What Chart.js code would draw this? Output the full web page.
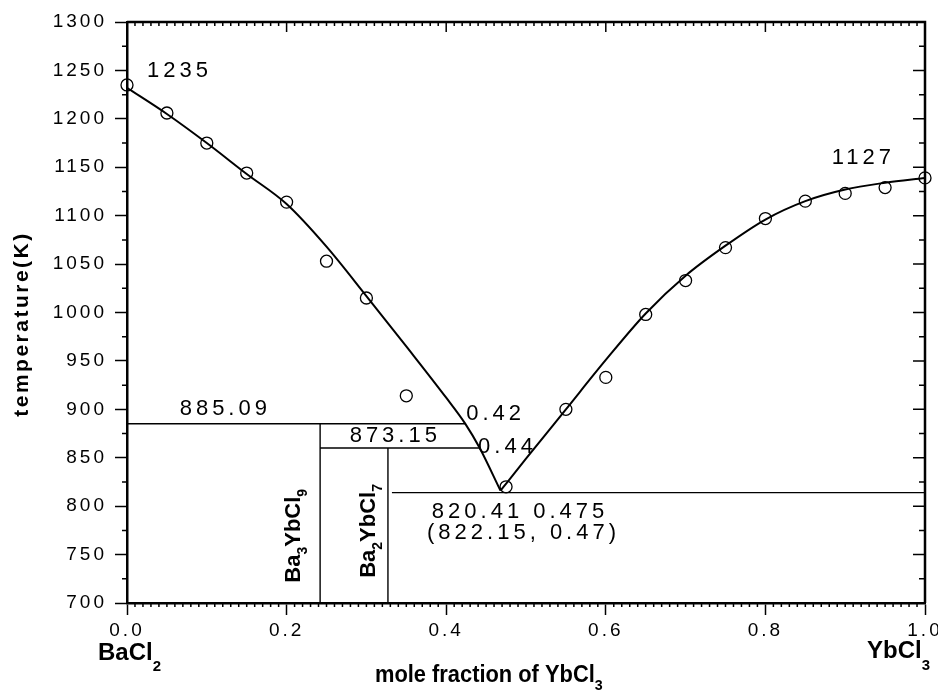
<!DOCTYPE html>
<html>
<head>
<meta charset="utf-8">
<script src="https://cdn.jsdelivr.net/npm/chart.js@4.4.1/dist/chart.umd.min.js"></script>
<style>
  html, body { margin: 0; padding: 0; background: #fff; }
  #wrap { width: 938px; height: 690px; }
</style>
</head>
<body>
<div id="wrap"><canvas id="phaseChart"></canvas></div>
<script>
// measured liquidus temperatures (open circles)
const measuredX = [0, 0.05, 0.1, 0.15, 0.2, 0.25, 0.3, 0.35, 0.475, 0.55, 0.6, 0.65, 0.7, 0.75, 0.8, 0.85, 0.9, 0.95, 1.0];
const measuredT = [1235, 1206, 1175, 1144, 1114, 1053, 1015, 914, 820, 900, 933, 998, 1033, 1067, 1097, 1115, 1123, 1129, 1139];

// fitted liquidus, BaCl2 side and YbCl3 side
const leftCurveX = [0, 0.05, 0.1, 0.15, 0.2, 0.25, 0.3, 0.35, 0.4, 0.424, 0.442, 0.468];
const leftCurveT = [1232, 1205, 1175, 1143, 1112, 1068, 1017, 965, 912, 885, 860, 816];
const rightCurveX = [0.468, 0.5, 0.55, 0.6, 0.65, 0.7, 0.75, 0.8, 0.85, 0.9, 0.95, 1.0];
const rightCurveT = [816, 849, 900, 951, 999, 1038, 1069, 1096, 1115, 1127, 1134, 1139];

// compounds Ba3YbCl9 and Ba2YbCl7: vertical lines and their shelves
const compoundX = [0.242, 0.327];
const shelfT = [885.09, 860];
const shelfStartX = [0, 0.242];
const shelfEndX = [0.424, 0.442];

// eutectic line
const eutecticX = [0.332, 1.0];
const eutecticT = 814;

const xTickValues = [0, 0.2, 0.4, 0.6, 0.8, 1.0];
const xTickLabels = ['0.0', '0.2', '0.4', '0.6', '0.8', '1.0'];
const yTickValues = [700, 750, 800, 850, 900, 950, 1000, 1050, 1100, 1150, 1200, 1250, 1300];

const FONT = "'Liberation Sans', Arial, sans-serif";

function toPoints(xs, ys) {
    return xs.map((x, i) => ({ x: x, y: Array.isArray(ys) ? ys[i] : ys }));
}

const lineStyle = {
    borderColor: '#000',
    borderWidth: 1.4,
    pointRadius: 0,
    showLine: true,
    fill: false
};

const datasets = [
    {
        label: 'measured',
        data: toPoints(measuredX, measuredT),
        showLine: false,
        pointRadius: 6,
        pointHoverRadius: 6,
        pointBorderWidth: 1.3,
        pointBorderColor: '#000',
        pointBackgroundColor: 'rgba(0,0,0,0)',
        clip: false
    },
    Object.assign({}, lineStyle, {
        data: toPoints(leftCurveX, leftCurveT),
        borderWidth: 2,
        cubicInterpolationMode: 'monotone'
    }),
    Object.assign({}, lineStyle, {
        data: toPoints(rightCurveX, rightCurveT),
        borderWidth: 2,
        cubicInterpolationMode: 'monotone'
    }),
    Object.assign({}, lineStyle, { data: toPoints(eutecticX, eutecticT) })
];

compoundX.forEach((cx, i) => {
    datasets.push(Object.assign({}, lineStyle, { data: [{ x: cx, y: 700 }, { x: cx, y: shelfT[i] }] }));
    datasets.push(Object.assign({}, lineStyle, { data: [{ x: shelfStartX[i], y: shelfT[i] }, { x: shelfEndX[i], y: shelfT[i] }] }));
});

// draw text with lowered subscripts, e.g. [['Ba', 0], ['3', 1]]
function drawChem(ctx, parts, size, subSize, subDrop) {
    let x = 0;
    parts.forEach(p => {
        const sub = p[1] === 1;
        ctx.font = 'bold ' + (sub ? subSize : size) + 'px ' + FONT;
        ctx.fillText(p[0], x, sub ? subDrop : 0);
        x += ctx.measureText(p[0]).width;
    });
}

const framePlugin = {
    id: 'frame',
    beforeDraw(chart) {
        chart.ctx.letterSpacing = '3px';
    },
    afterDraw(chart) {
        const { ctx, chartArea: a, scales: { x, y } } = chart;
        ctx.save();
        ctx.letterSpacing = '0px';
        ctx.strokeStyle = '#000';
        ctx.lineWidth = 2.5;
        ctx.beginPath();
        ctx.moveTo(a.left, a.top);
        ctx.lineTo(a.right, a.top);
        ctx.lineTo(a.right, a.bottom);
        ctx.stroke();

        ctx.lineWidth = 1.5;
        ctx.beginPath();
        for (let i = 0; i <= 100; i++) {
            const px = x.getPixelForValue(i / 100);
            const major = i % 20 === 0;
            if (!major) {
                ctx.moveTo(px, a.bottom);
                ctx.lineTo(px, a.bottom + 4);
            }
            ctx.moveTo(px, a.top);
            ctx.lineTo(px, a.top + (major ? 10 : 4));
        }
        for (let v = 700; v <= 1300; v += 25) {
            const py = y.getPixelForValue(v);
            const major = v % 50 === 0;
            if (!major) {
                ctx.moveTo(a.left - 5, py);
                ctx.lineTo(a.left, py);
            }
            ctx.moveTo(a.right - (major ? 12 : 6), py);
            ctx.lineTo(a.right, py);
        }
        ctx.stroke();

        // number annotations
        ctx.fillStyle = '#000';
        ctx.font = '22px ' + FONT;
        ctx.letterSpacing = '4px';
        ctx.textAlign = 'left';
        ctx.textBaseline = 'middle';
        const notes = [
            ['1235', 0.025, 1249],
            ['1127', 0.883, 1160],
            ['885.09', 0.066, 900],
            ['0.42', 0.425, 895],
            ['873.15', 0.279, 873],
            ['0.44', 0.44, 861],
            ['820.41 0.475', 0.382, 794],
            ['(822.15, 0.47)', 0.376, 772]
        ];
        notes.forEach(n => ctx.fillText(n[0], x.getPixelForValue(n[1]), y.getPixelForValue(n[2])));

        // compound labels, rotated
        ctx.letterSpacing = '0px';
        ctx.textBaseline = 'alphabetic';
        const compounds = [
            [[['Ba', 0], ['3', 1], ['YbCl', 0], ['9', 1]], 0.217, 721],
            [[['Ba', 0], ['2', 1], ['YbCl', 0], ['7', 1]], 0.311, 726]
        ];
        compounds.forEach(c => {
            ctx.save();
            ctx.translate(x.getPixelForValue(c[1]), y.getPixelForValue(c[2]));
            ctx.rotate(-Math.PI / 2);
            drawChem(ctx, c[0], 22, 14, 7);
            ctx.restore();
        });

        // end members under the x axis
        ctx.save();
        ctx.translate(98, 660);
        drawChem(ctx, [['BaCl', 0], ['2', 1]], 24, 15, 11);
        ctx.restore();
        ctx.save();
        ctx.translate(867, 658);
        drawChem(ctx, [['YbCl', 0], ['3', 1]], 24, 15, 12);
        ctx.restore();

        // axis titles
        ctx.save();
        ctx.translate(375, 682);
        ctx.scale(0.95, 1);
        drawChem(ctx, [['mole fraction of YbCl', 0], ['3', 1]], 23, 15, 8);
        ctx.restore();

        ctx.save();
        ctx.translate(22, 324);
        ctx.rotate(-Math.PI / 2);
        ctx.font = 'bold 21px ' + FONT;
        ctx.letterSpacing = '2.5px';
        ctx.textAlign = 'center';
        ctx.textBaseline = 'middle';
        ctx.fillText('temperature(K)', 0, 0);
        ctx.restore();

        ctx.restore();
        ctx.letterSpacing = '0px';
    }
};

Chart.defaults.color = '#000';
Chart.defaults.font.family = FONT;

new Chart(document.getElementById('phaseChart').getContext('2d'), {
    type: 'scatter',
    data: { datasets: datasets },
    options: {
        responsive: true,
        maintainAspectRatio: false,
        animation: false,
        devicePixelRatio: 1,
        layout: { padding: { top: 22, right: 13, left: 0, bottom: 0 } },
        plugins: {
            legend: { display: false },
            tooltip: { enabled: false }
        },
        scales: {
            x: {
                type: 'linear',
                min: 0,
                max: 1,
                afterBuildTicks: s => { s.ticks = xTickValues.map(v => ({ value: v })); },
                afterFit: s => { s.height = 87; s.paddingLeft = 0; s.paddingRight = 0; },
                ticks: {
                    font: { size: 19 },
                    padding: 4,
                    maxRotation: 0,
                    callback: (v, i) => xTickLabels[i]
                },
                grid: { drawOnChartArea: false, tickLength: 12, tickWidth: 1.5, tickColor: '#000' },
                border: { display: true, width: 2.5, color: '#000' }
            },
            y: {
                type: 'linear',
                min: 700,
                max: 1300,
                afterBuildTicks: s => { s.ticks = yTickValues.map(v => ({ value: v })); },
                afterFit: s => { s.width = 127; },
                ticks: {
                    font: { size: 19 },
                    padding: 8,
                    callback: v => String(v)
                },
                grid: { drawOnChartArea: false, tickLength: 12, tickWidth: 1.5, tickColor: '#000' },
                border: { display: true, width: 2.5, color: '#000' }
            }
        }
    },
    plugins: [framePlugin]
});
</script>
</body>
</html>
